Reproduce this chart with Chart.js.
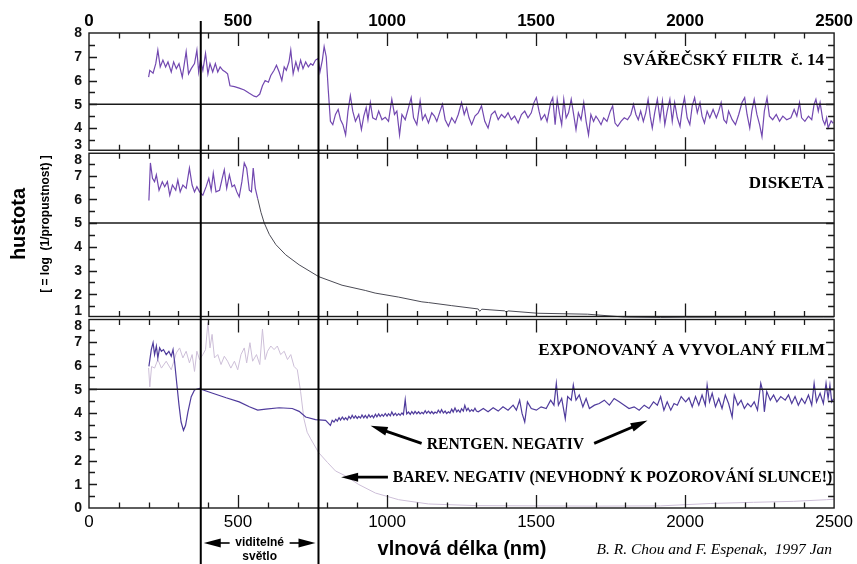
<!DOCTYPE html>
<html>
<head>
<meta charset="utf-8">
<script src="https://cdn.jsdelivr.net/npm/chart.js@4.4.1/dist/chart.umd.min.js"></script>
<style>
  html, body { margin: 0; padding: 0; background: #fff; }
  #wrap { position: relative; width: 857px; height: 564px; }
</style>
</head>
<body>
<div id="wrap"><canvas id="spectra" width="857" height="564"></canvas></div>
<script>
// Optická hustota filtrů – tři panely nad sebou, společná osa vlnových délek

const wavelengthTicks = [0, 500, 1000, 1500, 2000, 2500];
const densityTicksTop = [3, 4, 5, 6, 7, 8];
const densityTicksMid = [1, 2, 3, 4, 5, 6, 7, 8];
const densityTicksBot = [0, 1, 2, 3, 4, 5, 6, 7, 8];
const safeDensity = 5;
const visibleBounds = [375, 770];
const panelTitles = ['SVÁŘEČSKÝ FILTR  č. 14', 'DISKETA', 'EXPONOVANÝ A VYVOLANÝ FILM'];

// svářečský filtr č. 14
const weldNm = [200, 204, 215, 224, 231, 239, 248, 257, 265, 276, 284, 293, 302, 313, 326, 334, 343, 354, 362, 368,
  374, 382, 391, 399, 406, 415, 424, 432, 440, 449, 458, 465, 473, 488, 504, 521, 538, 554, 562, 573,
  582, 591, 602, 610, 621, 629, 638, 647, 655, 662, 671, 677, 685, 694, 702, 710, 718, 727, 736, 744,
  751, 760, 769, 775, 783, 789, 796, 803, 810, 818, 827, 836, 844, 852, 861, 869, 877, 885, 894, 905,
  914, 922, 930, 936, 944, 952, 963, 972, 983, 994, 1005, 1016, 1025, 1033, 1042, 1050, 1061, 1072, 1081, 1089,
  1100, 1111, 1119, 1128, 1139, 1150, 1159, 1167, 1178, 1186, 1195, 1206, 1217, 1228, 1239, 1250, 1259, 1267, 1275, 1284,
  1295, 1306, 1317, 1328, 1339, 1350, 1362, 1373, 1384, 1395, 1406, 1417, 1428, 1440, 1451, 1462, 1473, 1484, 1493, 1501,
  1510, 1517, 1529, 1537, 1549, 1556, 1564, 1571, 1579, 1586, 1593, 1601, 1609, 1618, 1627, 1634, 1642, 1651, 1660, 1668,
  1676, 1684, 1693, 1701, 1709, 1718, 1727, 1738, 1749, 1757, 1765, 1774, 1785, 1796, 1807, 1818, 1827, 1835, 1843, 1851,
  1860, 1868, 1876, 1883, 1890, 1898, 1907, 1916, 1924, 1932, 1940, 1949, 1957, 1965, 1974, 1983, 1991, 1998, 2007, 2016,
  2024, 2032, 2041, 2050, 2057, 2065, 2074, 2083, 2094, 2105, 2113, 2121, 2130, 2139, 2146, 2158, 2169, 2180, 2191, 2200,
  2208, 2217, 2224, 2232, 2241, 2250, 2258, 2266, 2275, 2283, 2294, 2306, 2317, 2328, 2341, 2355, 2366, 2375, 2384, 2391,
  2402, 2414, 2425, 2433, 2439, 2447, 2453, 2462, 2469, 2475, 2480, 2490, 2497];
const weldDensity = [6.14, 6.43, 6.31, 6.71, 7.28, 6.57, 6.86, 6.57, 6.78, 6.36, 6.78, 6.5, 6.71, 6.14, 7.21, 6.28, 6.5, 6.71, 7.28, 6.36,
  6.86, 6.43, 7.14, 6.28, 6.71, 6.36, 6.71, 6.36, 6.57, 6.43, 6.36, 6.28, 5.78, 5.74, 5.68, 5.6, 5.46, 5.34, 5.31, 5.43,
  5.78, 6.0, 5.93, 6.21, 6.43, 6.64, 6.36, 6.0, 6.57, 6.43, 6.78, 7.28, 6.28, 6.78, 6.43, 6.86, 6.5, 6.78, 6.57, 6.71,
  6.64, 6.86, 6.93, 6.36, 6.86, 7.43, 7.0, 5.57, 4.28, 4.14, 4.57, 4.78, 4.35, 4.14, 3.71, 4.71, 5.36, 4.71, 4.28, 4.57,
  3.93, 4.5, 4.86, 4.35, 5.07, 4.43, 4.35, 4.71, 4.35, 4.45, 4.28, 5.21, 4.57, 4.71, 3.71, 4.57, 4.35, 4.86, 5.28, 4.43,
  4.14, 5.14, 4.35, 4.57, 4.21, 4.64, 4.5, 4.28, 4.71, 5.0, 4.35, 4.07, 4.43, 4.21, 4.57, 5.07, 4.57, 4.86, 4.43, 4.14,
  4.5, 4.64, 4.93, 4.28, 4.0, 4.57, 4.71, 4.35, 4.57, 4.43, 4.64, 4.35, 4.5, 4.21, 4.57, 4.71, 4.43, 4.64, 5.07, 5.28,
  4.71, 4.35, 4.57, 4.28, 5.07, 5.28, 4.14, 5.21, 4.57, 4.14, 5.21, 4.43, 4.64, 5.21, 4.5, 3.93, 4.64, 4.35, 5.07, 4.28,
  3.71, 4.57, 4.28, 4.5, 4.35, 4.14, 4.43, 4.28, 4.71, 4.93, 4.21, 4.07, 4.28, 4.43, 4.35, 4.57, 5.0, 4.57, 4.35, 4.71,
  4.28, 4.64, 5.21, 4.5, 4.0, 4.64, 5.21, 4.35, 5.14, 4.14, 4.71, 5.21, 4.28, 5.07, 4.43, 4.07, 4.86, 5.28, 4.43, 4.14,
  4.93, 5.28, 4.64, 5.07, 4.5, 4.21, 4.71, 4.43, 4.78, 4.43, 4.71, 5.07, 4.35, 4.21, 4.71, 4.35, 4.14, 4.57, 5.07, 5.28,
  4.57, 4.0, 4.71, 5.21, 4.57, 4.14, 3.64, 4.71, 5.28, 4.5, 4.35, 4.57, 4.28, 4.5, 4.35, 4.43, 4.78, 4.5, 5.07, 4.43,
  4.28, 4.5, 4.35, 5.0, 5.21, 4.71, 5.07, 4.35, 4.14, 4.43, 4.0, 4.3, 4.2];

// disketa – zašuměná část v UV/viditelné oblasti, pak hladký pokles
const disketteNoiseNm = [201, 206, 213, 220, 226, 235, 246, 254, 263, 271, 280, 291, 298, 306, 315, 326, 337, 346, 354, 362,
  371, 382, 393, 402, 410, 417, 426, 438, 447, 454, 462, 471, 480, 488, 496, 504, 513, 521, 529, 538,
  545, 551, 558, 566];
const disketteNoiseDensity = [5.95, 7.53, 6.88, 6.74, 7.03, 6.38, 6.74, 6.53, 6.74, 6.17, 6.6, 6.38, 6.81, 6.31, 6.6, 6.46, 7.31, 6.6, 6.31, 6.53,
  6.31, 6.17, 6.53, 6.88, 6.38, 7.1, 6.31, 6.38, 6.88, 7.24, 6.46, 7.03, 6.53, 6.6, 6.31, 6.1, 6.74, 7.53, 7.31, 6.38,
  6.31, 7.31, 6.46, 6.03];
const disketteTailNm = [566, 577, 588, 605, 627, 660, 705, 771, 849, 927, 960, 1039, 1117, 1139, 1217, 1306, 1311, 1318, 1395, 1400,
  1406, 1506, 1673, 1796, 1918, 2002, 2464, 2500];
const disketteTailDensity = [6.03, 5.45, 5.0, 4.52, 4.09, 3.66, 3.24, 2.74, 2.38, 2.16, 2.05, 1.88, 1.68, 1.65, 1.52, 1.38, 1.28, 1.37, 1.3, 1.24,
  1.3, 1.2, 1.16, 1.04, 1.02, 1.01, 1.0, 1.0];

// rentgenový negativ
const xrayNm = [201, 209, 215, 220, 226, 231, 237, 243, 250, 259, 268, 276, 282, 287, 295, 302, 309, 317, 324, 332,
  343, 354, 371, 376, 415, 460, 504, 538, 566, 593, 638, 682, 705, 727, 760, 794, 810, 816, 822, 828,
  833, 839, 844, 850, 856, 861, 867, 872, 878, 883, 889, 894, 900, 905, 911, 916, 922, 927, 933, 939,
  944, 950, 955, 961, 966, 972, 977, 983, 988, 994, 1000, 1005, 1011, 1016, 1022, 1028, 1033, 1039, 1044, 1050,
  1055, 1061, 1066, 1072, 1078, 1083, 1089, 1094, 1100, 1106, 1111, 1117, 1122, 1128, 1133, 1139, 1145, 1150, 1156, 1161,
  1167, 1172, 1178, 1183, 1189, 1195, 1200, 1206, 1211, 1217, 1222, 1228, 1234, 1239, 1245, 1250, 1256, 1261, 1267, 1272,
  1278, 1284, 1289, 1295, 1300, 1306, 1323, 1339, 1356, 1373, 1389, 1406, 1423, 1434, 1445, 1453, 1462, 1471, 1484, 1501,
  1517, 1534, 1549, 1560, 1568, 1575, 1586, 1598, 1606, 1618, 1625, 1634, 1645, 1657, 1668, 1679, 1696, 1712, 1729, 1746,
  1762, 1779, 1796, 1812, 1829, 1846, 1863, 1879, 1894, 1907, 1918, 1929, 1940, 1952, 1963, 1974, 1987, 2002, 2013, 2024,
  2035, 2046, 2057, 2068, 2074, 2082, 2091, 2102, 2113, 2124, 2135, 2146, 2158, 2165, 2177, 2188, 2199, 2210, 2221, 2232,
  2243, 2254, 2261, 2266, 2274, 2286, 2297, 2308, 2321, 2336, 2347, 2358, 2369, 2380, 2391, 2402, 2414, 2425, 2433, 2441,
  2453, 2464, 2473, 2480, 2486, 2492, 2498];
const xrayDensity = [5.96, 6.67, 6.96, 6.46, 6.82, 6.32, 6.74, 6.6, 6.67, 6.46, 6.6, 6.39, 6.67, 6.18, 5.18, 4.33, 3.62, 3.27, 3.48, 4.05,
  4.69, 4.97, 5.04, 5.0, 4.83, 4.64, 4.47, 4.26, 4.12, 4.16, 4.22, 4.19, 4.07, 3.83, 3.72, 3.69, 3.48, 3.69, 3.62, 3.74,
  3.66, 3.8, 3.7, 3.83, 3.72, 3.8, 3.71, 3.86, 3.76, 3.9, 3.78, 3.88, 3.77, 3.86, 3.79, 3.92, 3.8, 3.9, 3.79, 3.93,
  3.82, 3.9, 3.8, 3.95, 3.84, 3.96, 3.85, 3.94, 3.86, 3.98, 3.87, 3.97, 3.88, 4.04, 3.9, 3.99, 3.89, 3.97, 3.9, 4.0,
  3.93, 4.56, 3.96, 4.04, 3.94, 4.06, 3.96, 4.07, 3.97, 4.05, 3.96, 4.03, 3.97, 4.1, 3.99, 4.08, 3.98, 4.06, 3.97, 4.04,
  3.99, 4.12, 4.01, 4.14, 4.0, 4.08, 3.98, 4.05, 4.0, 4.16, 4.04, 4.21, 4.05, 4.13, 4.03, 4.18, 4.08, 4.32, 4.1, 4.2,
  4.06, 4.14, 4.07, 4.2, 4.08, 4.05, 4.19, 4.05, 4.22, 4.08, 4.26, 4.12, 4.33, 4.12, 4.54, 3.98, 3.62, 4.47, 4.19, 4.12,
  4.26, 4.19, 4.54, 4.33, 5.25, 4.33, 4.61, 3.76, 4.69, 4.54, 5.18, 4.54, 4.76, 4.26, 4.61, 4.19, 4.33, 4.4, 4.54, 4.33,
  4.61, 4.47, 4.33, 4.19, 4.26, 4.12, 4.33, 4.19, 4.47, 4.33, 4.69, 4.12, 4.47, 4.12, 4.4, 4.33, 4.69, 4.47, 4.64, 4.26,
  4.69, 4.33, 4.76, 4.33, 5.18, 4.47, 4.83, 4.26, 4.61, 4.19, 4.76, 4.4, 3.83, 4.76, 4.33, 4.54, 4.19, 4.4, 4.26, 4.47,
  4.12, 5.25, 4.9, 4.05, 4.9, 4.54, 4.76, 4.47, 4.69, 4.54, 4.76, 4.4, 4.69, 4.33, 4.61, 4.4, 4.76, 4.33, 5.25, 4.47,
  4.83, 4.4, 5.25, 4.61, 5.18, 4.47, 4.6];

// barevný negativ
const colourNegNm = [200, 204, 210, 220, 231, 243, 259, 276, 293, 304, 315, 326, 337, 346, 354, 362, 371, 382, 391, 399,
  406, 413, 421, 432, 443, 454, 465, 476, 488, 499, 510, 521, 529, 540, 549, 562, 573, 582, 591, 599,
  610, 621, 632, 643, 655, 666, 677, 688, 699, 710, 721, 732, 744, 770, 800, 827, 861, 905, 961, 1039,
  1139, 1300, 1500, 1700, 1918, 2085, 2230, 2363, 2475, 2500];
const colourNegDensity = [5.9, 5.1, 5.96, 5.89, 6.25, 5.89, 6.18, 5.82, 6.53, 6.74, 6.32, 6.6, 6.11, 6.46, 5.75, 6.6, 6.25, 6.46, 6.67, 7.81,
  6.74, 7.31, 6.32, 6.46, 6.04, 6.39, 6.18, 5.89, 6.18, 5.82, 6.46, 6.74, 6.11, 6.96, 6.18, 6.46, 6.04, 7.53, 6.25, 6.6,
  6.82, 6.67, 6.82, 6.46, 6.6, 6.25, 6.46, 5.96, 5.82, 4.9, 3.76, 3.19, 2.91, 2.34, 1.92, 1.56, 1.35, 0.99, 0.63, 0.35,
  0.17, 0.1, 0.09, 0.08, 0.09, 0.19, 0.24, 0.28, 0.35, 0.37];

const pts = (xs, ys) => xs.map((x, i) => ({ x, y: ys[i] }));

function arrow(ctx, x1, y1, x2, y2, shaft = 2.8) {
  const a = Math.atan2(y2 - y1, x2 - x1);
  const head = 17, half = 4.5;
  const bx = x2 - head * Math.cos(a), by = y2 - head * Math.sin(a);
  ctx.lineWidth = shaft;
  ctx.beginPath();
  ctx.moveTo(x1, y1);
  ctx.lineTo(bx + 4 * Math.cos(a), by + 4 * Math.sin(a));
  ctx.stroke();
  ctx.beginPath();
  ctx.moveTo(x2, y2);
  ctx.lineTo(bx - half * Math.sin(a), by + half * Math.cos(a));
  ctx.lineTo(bx + half * Math.sin(a), by - half * Math.cos(a));
  ctx.closePath();
  ctx.fill();
}

const panelDecor = {
  id: 'panelDecor',
  afterDatasetsDraw(chart) {
    const ctx = chart.ctx;
    const x = chart.scales.x;
    const panels = [
      [chart.scales.yTop, densityTicksTop],
      [chart.scales.yMid, densityTicksMid],
      [chart.scales.yBot, densityTicksBot]
    ];
    ctx.save();
    ctx.fillStyle = '#111';
    ctx.strokeStyle = '#1a1a1a';
    panels.forEach(([y, ticks], i) => {
      const top = y.top + (i > 0 ? 1.5 : 0);
      const bottom = y.bottom - (i < panels.length - 1 ? 1.5 : 0);
      ctx.lineWidth = 1.4;
      ctx.strokeRect(x.left, top, x.right - x.left, bottom - top);

      // inward ticks on all four edges
      ctx.lineWidth = 1.3;
      ctx.beginPath();
      for (let v = 100; v < 2500; v += 100) {
        const px = Math.round(x.getPixelForValue(v)) + 0.5;
        const len = v % 500 === 0 ? 13 : 5.5;
        ctx.moveTo(px, top);
        ctx.lineTo(px, top + len);
        ctx.moveTo(px, bottom);
        ctx.lineTo(px, bottom - len);
      }
      for (let v = y.min + 0.5; v < y.max; v += 0.5) {
        const py = Math.round(y.getPixelForValue(v)) + 0.5;
        const len = Number.isInteger(v) ? 8 : 6;
        ctx.moveTo(x.left, py);
        ctx.lineTo(x.left + len, py);
        ctx.moveTo(x.right, py);
        ctx.lineTo(x.right - len, py);
      }
      ctx.stroke();

      // density 5 reference line
      const p5 = y.getPixelForValue(safeDensity);
      ctx.lineWidth = 1.6;
      ctx.beginPath();
      ctx.moveTo(x.left, p5);
      ctx.lineTo(x.right, p5);
      ctx.stroke();

      // tick labels, kept inside their own panel
      ctx.font = 'bold 14px "Liberation Sans", Arial, sans-serif';
      ctx.textAlign = 'right';
      ctx.textBaseline = 'middle';
      ticks.forEach(v => {
        let py = y.getPixelForValue(v);
        if (i > 0) py = Math.max(py, top + 6);
        if (i < panels.length - 1) py = Math.min(py, bottom - 6);
        ctx.fillText(String(v), x.left - 7, py + 0.5);
      });
    });
    ctx.restore();
  },
  afterDraw(chart) {
    const ctx = chart.ctx;
    const x = chart.scales.x;
    const yTop = chart.scales.yTop, yMid = chart.scales.yMid, yBot = chart.scales.yBot;
    const area = chart.chartArea;
    ctx.save();
    ctx.strokeStyle = '#000';
    ctx.fillStyle = '#000';

    // hranice viditelného světla
    ctx.lineWidth = 2;
    visibleBounds.forEach(v => {
      const px = x.getPixelForValue(v);
      ctx.beginPath();
      ctx.moveTo(px, area.top - 12);
      ctx.lineTo(px, chart.height);
      ctx.stroke();
    });

    // názvy panelů
    ctx.font = 'bold 17px "Liberation Serif", "Times New Roman", serif';
    ctx.textAlign = 'right';
    ctx.textBaseline = 'middle';
    ctx.fillText(panelTitles[0], x.right - 10, yTop.getPixelForValue(6.85));
    ctx.fillText(panelTitles[1], x.right - 10, yMid.getPixelForValue(6.65));
    ctx.fillText(panelTitles[2], x.right - 9, yBot.getPixelForValue(6.62));

    // popisky křivek ve spodním panelu
    ctx.font = 'bold 15.7px "Liberation Serif", "Times New Roman", serif';
    ctx.textAlign = 'left';
    ctx.fillText('RENTGEN. NEGATIV', x.getPixelForValue(1133), yBot.getPixelForValue(2.65));
    ctx.fillText('BAREV. NEGATIV (NEVHODNÝ K POZOROVÁNÍ SLUNCE!)', x.getPixelForValue(1019), yBot.getPixelForValue(1.25));
    arrow(ctx, x.getPixelForValue(1116), yBot.getPixelForValue(2.72), x.getPixelForValue(945), yBot.getPixelForValue(3.46));
    arrow(ctx, x.getPixelForValue(1695), yBot.getPixelForValue(2.72), x.getPixelForValue(1874), yBot.getPixelForValue(3.68));
    arrow(ctx, x.getPixelForValue(1003), yBot.getPixelForValue(1.3), x.getPixelForValue(846), yBot.getPixelForValue(1.3));

    // viditelné světlo
    const v0 = x.getPixelForValue(visibleBounds[0]), v1 = x.getPixelForValue(visibleBounds[1]);
    const mid = (v0 + v1) / 2;
    ctx.font = 'bold 12px "Liberation Sans", Arial, sans-serif';
    ctx.textAlign = 'center';
    ctx.fillText('viditelné', mid, area.bottom + 35);
    ctx.fillText('světlo', mid, area.bottom + 49);
    arrow(ctx, mid - 30, area.bottom + 35, v0 + 3, area.bottom + 35, 1.6);
    arrow(ctx, mid + 30, area.bottom + 35, v1 - 3, area.bottom + 35, 1.6);

    // osy
    ctx.font = 'bold 20px "Liberation Sans", Arial, sans-serif';
    ctx.fillText('vlnová délka (nm)', 462, area.bottom + 41);
    ctx.font = 'italic 15.5px "Liberation Serif", "Times New Roman", serif';
    ctx.textAlign = 'right';
    ctx.fillText('B. R. Chou and F. Espenak,  1997 Jan', x.right - 2, area.bottom + 42);

    ctx.translate(19, 224);
    ctx.rotate(-Math.PI / 2);
    ctx.textAlign = 'center';
    ctx.font = 'bold 20px "Liberation Sans", Arial, sans-serif';
    ctx.fillText('hustota', 0, 0);
    ctx.font = 'bold 12px "Liberation Sans", Arial, sans-serif';
    ctx.fillText('[ = log  (1/propustnost) ]', 0, 27);
    ctx.restore();
  }
};

const hiddenGrid = { display: false, drawTicks: false };
const setWavelengthTicks = s => { s.ticks = wavelengthTicks.map(v => ({ value: v })); };
const plainNumber = v => String(v);

new Chart(document.getElementById('spectra'), {
  type: 'line',
  data: {
    datasets: [
      { data: pts(weldNm, weldDensity), yAxisID: 'yTop', borderColor: '#7248b0', borderWidth: 1.2 },
      { data: pts(disketteNoiseNm, disketteNoiseDensity), yAxisID: 'yMid', borderColor: '#7248b0', borderWidth: 1.2 },
      { data: pts(disketteTailNm, disketteTailDensity), yAxisID: 'yMid', borderColor: '#4b4b55', borderWidth: 1 },
      { data: pts(xrayNm, xrayDensity), yAxisID: 'yBot', borderColor: '#4f3b9c', borderWidth: 1.2 },
      { data: pts(colourNegNm, colourNegDensity), yAxisID: 'yBot', borderColor: '#cdbfd8', borderWidth: 1 }
    ]
  },
  options: {
    responsive: false,
    animation: false,
    layout: { padding: { left: 0, right: 19, top: 0, bottom: 0 } },
    elements: { point: { radius: 0 }, line: { tension: 0 } },
    plugins: { legend: { display: false }, tooltip: { enabled: false } },
    scales: {
      x: {
        type: 'linear', position: 'bottom', min: 0, max: 2500,
        grid: hiddenGrid, border: { display: false },
        afterBuildTicks: setWavelengthTicks,
        ticks: { padding: 4, color: '#000', maxRotation: 0, callback: plainNumber,
          font: { family: '"Liberation Sans", Arial, sans-serif', size: 17 } },
        afterFit: s => { s.height = 56; }
      },
      x2: {
        type: 'linear', position: 'top', min: 0, max: 2500,
        grid: hiddenGrid, border: { display: false },
        afterBuildTicks: setWavelengthTicks,
        ticks: { padding: 1, color: '#000', maxRotation: 0, callback: plainNumber,
          font: { family: '"Liberation Sans", Arial, sans-serif', size: 17, weight: 'bold' } },
        afterFit: s => { s.height = 33; }
      },
      yTop: {
        position: 'left', stack: 'panels', stackWeight: 5, weight: 3, min: 3, max: 8,
        grid: hiddenGrid, border: { display: false }, ticks: { display: false },
        afterFit: s => { s.width = 89; }
      },
      yMid: {
        position: 'left', stack: 'panels', stackWeight: 7, weight: 2, min: 1, max: 8,
        grid: hiddenGrid, border: { display: false }, ticks: { display: false },
        afterFit: s => { s.width = 89; }
      },
      yBot: {
        position: 'left', stack: 'panels', stackWeight: 8, weight: 1, min: 0, max: 8,
        grid: hiddenGrid, border: { display: false }, ticks: { display: false },
        afterFit: s => { s.width = 89; }
      }
    }
  },
  plugins: [panelDecor]
});
</script>
</body>
</html>
